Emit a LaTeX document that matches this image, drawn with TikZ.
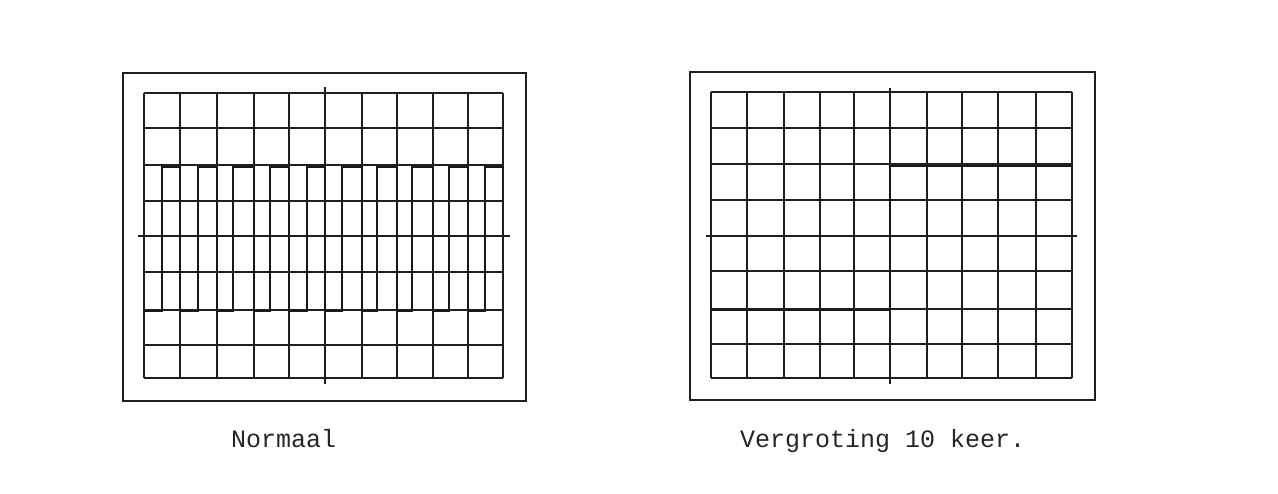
\documentclass[tikz,border=0pt]{standalone}
\usepackage{fontspec}
\newfontfamily\plotfont{Liberation Mono}
\begin{document}
\begin{tikzpicture}[x=1pt,y=-1pt,
  frameline/.style={draw=black!88,line width=1.9pt},
  gridline/.style={draw=black!88,line width=1.8pt},
  waveline/.style={draw=black!90,line width=2.3pt,line join=miter},
  caption/.style={font=\plotfont\fontsize{25}{25}\selectfont,text=black!85,anchor=base west,inner sep=0pt}]
\useasboundingbox (0,0) rectangle (1278,494);
\fill[white] (0,0) rectangle (1278,494);
% ---------- left panel ----------
\draw[frameline] (123,73) rectangle (526,401);
\foreach \x in {144.3,180,216.7,254,289,361.7,396.7,432.7,468.3,503.3}
  \draw[gridline] (\x,93.3) -- (\x,378.3);
\foreach \y in {93.3,128.3,165,200.7,271.7,310,345,378.3}
  \draw[gridline] (144.3,\y) -- (503.3,\y);
\draw[gridline] (138,235.7) -- (510,235.7);
\draw[gridline] (325,87) -- (325,384);
% square wave
\draw[waveline] (144.3,311) -- (161.7,311) -- (161.7,167) -- (180,167) -- (180,311)
  -- (198.3,311) -- (198.3,167) -- (216.7,167) -- (216.7,311)
  -- (232.7,311) -- (232.7,167) -- (254,167) -- (254,311)
  -- (270,311) -- (270,167) -- (289,167) -- (289,311)
  -- (306.7,311) -- (306.7,167) -- (325,167) -- (325,311)
  -- (341.7,311) -- (341.7,167) -- (361.7,167) -- (361.7,311)
  -- (376.7,311) -- (376.7,167) -- (396.7,167) -- (396.7,311)
  -- (412.3,311) -- (412.3,167) -- (432.7,167) -- (432.7,311)
  -- (449,311) -- (449,167) -- (468.3,167) -- (468.3,311)
  -- (485,311) -- (485,167) -- (503.3,167);
% ---------- right panel ----------
\draw[frameline] (690,72) rectangle (1095,400);
\foreach \x in {711,747,784,820,854.3,926.7,961.7,998.3,1036,1072}
  \draw[gridline] (\x,92.3) -- (\x,378.3);
\foreach \y in {92.3,128.3,164.3,200,271,309.3,344.3,378.3}
  \draw[gridline] (711,\y) -- (1072,\y);
\draw[gridline] (706,236) -- (1077,236);
\draw[gridline] (890,88) -- (890,384);
% step
\draw[waveline] (711,309.8) -- (890,309.8) -- (890,166) -- (1072,166);
% ---------- captions ----------
\node[caption] (cap1) at (231,447) {Normaal};
\node[caption] (cap2) at (740,447) {Vergroting 10 keer.};
\end{tikzpicture}
\end{document}
